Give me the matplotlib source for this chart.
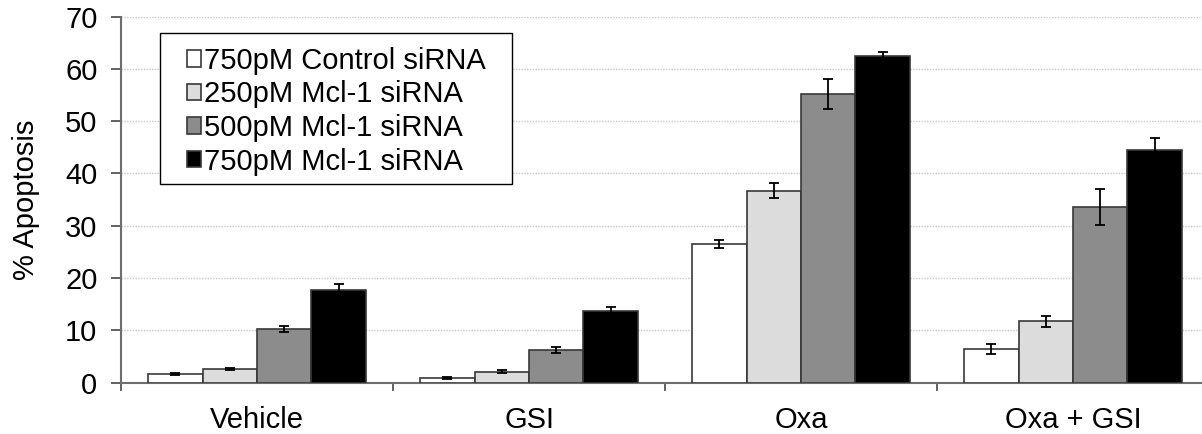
import numpy as np
import matplotlib
matplotlib.use("Agg")
import matplotlib.pyplot as plt
from matplotlib.patches import Rectangle

# Данные
CATEGORIES = ["Vehicle", "GSI", "Oxa", "Oxa + GSI"]
SERIES = ["750pM Control siRNA", "250pM Mcl-1 siRNA", "500pM Mcl-1 siRNA", "750pM Mcl-1 siRNA"]
COLORS = ["#ffffff", "#dcdcdc", "#8c8c8c", "#000000"]

control_750 = [1.6, 0.9, 26.5, 6.4]
mcl1_250 = [2.5, 2.1, 36.7, 11.7]
mcl1_500 = [10.2, 6.2, 55.2, 33.6]
mcl1_750 = [17.6, 13.6, 62.4, 44.5]

control_750_err = [0.2, 0.15, 0.7, 1.0]
mcl1_250_err = [0.2, 0.2, 1.5, 1.1]
mcl1_500_err = [0.6, 0.6, 2.8, 3.5]
mcl1_750_err = [1.3, 0.9, 0.8, 2.2]

VALUES = [control_750, mcl1_250, mcl1_500, mcl1_750]
ERRORS = [control_750_err, mcl1_250_err, mcl1_500_err, mcl1_750_err]

FS = 21
plt.rcParams["font.family"] = ["Liberation Sans", "DejaVu Sans"]
plt.rcParams["font.size"] = FS

fig = plt.figure(figsize=(12.02, 4.34), dpi=100)
ax = fig.add_axes([121 / 1202, 51.5 / 434, 1088 / 1202, 366 / 434])

width = 0.2
centers = np.arange(len(CATEGORIES)) + 0.5
for i, (vals, errs) in enumerate(zip(VALUES, ERRORS)):
    x = centers + (i - 1.5) * width
    ax.bar(x, vals, width, color=COLORS[i], edgecolor="#383838", linewidth=1.2,
           label=SERIES[i], zorder=3)
    ax.errorbar(x, vals, yerr=errs, fmt="none", ecolor="black", elinewidth=1.3,
                capsize=3.5, capthick=1.3, zorder=4)

ax.set_xlim(0, len(CATEGORIES))
ax.set_ylim(0, 70)
ax.set_yticks(range(0, 71, 10))
ax.yaxis.grid(True, linestyle=(0, (1, 1)), color="#c8c8c8", linewidth=1.0, zorder=0)
ax.set_axisbelow(True)

# деления по границам категорий, подписи по центрам
ax.set_xticks(range(len(CATEGORIES) + 1))
ax.set_xticklabels([])
ax.set_xticks(centers, minor=True)
ax.set_xticklabels(CATEGORIES, minor=True)
ax.tick_params(axis="x", which="major", direction="out", length=6, width=1.3, color="#555555")
ax.tick_params(axis="x", which="minor", length=0, pad=17)
ax.tick_params(axis="y", direction="out", length=7, width=1.3, color="#555555", pad=10)

for s in ("top", "right"):
    ax.spines[s].set_visible(False)
for s in ("left", "bottom"):
    ax.spines[s].set_color("#6e6e6e")
    ax.spines[s].set_linewidth(1.5)

ax.set_ylabel("% Apoptosis")
ax.yaxis.set_label_coords(-0.074, 0.5)

# рамка легенды отдельно — у оригинала большие поля
ax.add_patch(Rectangle((0.0358, 0.542), 0.3236, 0.413, transform=ax.transAxes,
                       facecolor="white", edgecolor="black", linewidth=1.0, zorder=5))
leg = ax.legend(loc="upper left", bbox_to_anchor=(0.0607, 0.917), borderaxespad=0,
                frameon=False, handlelength=0.48, handleheight=0.48, handletextpad=0.1,
                labelspacing=0.19, borderpad=0, fontsize=FS)
leg.set_zorder(6)

fig.savefig("out.png", dpi=100)
